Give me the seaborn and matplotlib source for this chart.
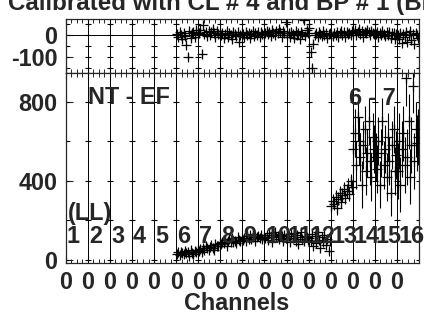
import numpy as np
import pandas as pd
import seaborn as sns
import matplotlib.pyplot as plt

# channels that carry data (1..16 drawn, data only from 6 on)
channels = list(range(6, 17))

# amplitude per point, one list per channel
amp = {
    6: [30, 38, 25, 42, 35, 28, 45, 33, 40, 22, 48, 36, 30, 44, 38, 50],
    7: [45, 55, 40, 62, 50, 70, 58, 48, 66, 75, 60, 52, 80, 68, 72, 85],
    8: [78, 90, 85, 100, 72, 95, 105, 88, 110, 92, 98, 84, 115, 100, 95, 108],
    9: [100, 112, 95, 120, 108, 125, 104, 118, 130, 98, 115, 122, 110, 128, 105, 118],
    10: [110, 125, 100, 135, 118, 92, 128, 140, 115, 122, 105, 132, 120, 98, 126, 112],
    11: [105, 120, 90, 130, 112, 135, 98, 125, 80, 118, 140, 108, 95, 122, 115, 100],
    12: [110, 95, 130, 70, 120, 85, 140, 100, 60, 115, 90, 125, 75, 105, 45, 95],
    13: [270, 300, 285, 320, 260, 310, 340, 295, 330, 360, 315, 350, 380, 335, 400, 370],
    14: [560, 640, 480, 720, 600, 520, 380, 580, 660, 450, 540, 700, 500, 420, 620, 560],
    15: [520, 460, 600, 380, 540, 700, 480, 560, 420, 620, 500, 340, 580, 660, 450, 530],
    16: [450, 600, 380, 560, 640, 480, 920, 520, 700, 420, 580, 880, 500, 660, 590, 620],
}
amp_err = {6: 12, 7: 12, 8: 12, 9: 12, 10: 14, 11: 14, 12: 16,
           13: 35, 14: 120, 15: 120, 16: 140}

# residuals (top pad)
resid = {
    6: [5, -10, 15, 0, -20, 10, -5, -45, -100, 20, -15, 8, 12, -8, 25, 3],
    7: [10, 25, -88, 45, 5, 15, -5, 20, 0, 12, 30, 8, -10, 18, 5, 10],
    8: [0, 10, -15, 5, 20, -10, 8, 0, -20, 15, 5, -5, 12, -30, 0, 8],
    9: [5, -8, 15, 0, 10, -15, 5, 20, -5, 8, 0, 12, -10, 15, 5, 2],
    10: [10, 20, 5, 15, -5, 25, 10, 0, 18, 8, 30, 12, -8, 20, 8, 60],
    11: [0, 10, -10, 15, 5, -15, 20, 0, 8, -20, 12, 5, 68, -5, 25, 10],
    12: [32, -77, -150, -40, 0, 10, -10, 15, 5, -5, 20, 0, 10, -15, 5, 8],
    13: [5, -5, 10, 0, 15, -10, 8, 20, 0, 12, -8, 15, 5, 10, 0, 18],
    14: [10, 25, 0, 15, 30, 5, 20, -10, 15, 8, 25, 12, 0, 18, 10, 5],
    15: [5, 15, -10, 10, 0, 20, 5, -5, 12, 0, 15, -15, 8, 10, -20, 5],
    16: [0, -20, 10, -35, 5, -10, 15, -30, 0, 20, -25, 5, -40, 10, 0, -15],
}
resid_err = 12

rows = []
for c in channels:
    n = len(amp[c])
    for j in range(n):
        rows.append({"ch": c, "x": c - 1 + (j + 0.5) / n, "amp": amp[c][j],
                     "err": amp_err[c], "res": resid[c][j]})
df = pd.DataFrame(rows)

sns.set_style("ticks")
plt.rcParams["font.family"] = ["Liberation Sans", "DejaVu Sans"]
plt.rcParams["font.weight"] = "bold"
plt.rcParams["axes.unicode_minus"] = False
fs = 16.8

fig = plt.figure(figsize=(4.24, 3.2), dpi=100)
ax1 = fig.add_axes([0.155, 0.7728, 0.8333, 0.1678])
ax2 = fig.add_axes([0.155, 0.1791, 0.8333, 0.5938])

bounds = np.arange(0, 17)

for ax, ylim, yt, ymin in [(ax1, (-174, 74), [0, -100], [50, -50, -150]),
                           (ax2, (-14, 946), [0, 400, 800], [200, 600])]:
    ax.set_xlim(0, 16)
    ax.set_ylim(*ylim)
    for b in bounds:
        ax.axvline(b, color="black", lw=0.7, zorder=1)
    gx, gy = np.meshgrid(bounds, yt + ymin)
    ax.plot(gx.ravel(), gy.ravel(), ls="none", marker="_", ms=5, mew=0.8,
            color="black", zorder=1)
    ax.set_yticks(yt)
    ax.set_yticks(ymin, minor=True)
    ax.set_xticks(bounds[:-1])
    ax.set_xticks(np.arange(0, 16, 0.25), minor=True)
    ax.tick_params(which="both", direction="in", top=True, right=False,
                   labelsize=fs, pad=6)
    ax.tick_params(which="major", length=5, width=0.8)
    ax.tick_params(which="minor", length=3, width=0.7)
    for s in ax.spines.values():
        s.set_linewidth(0.9)

# top pad: residuals
ax1.axhline(0, color="black", lw=0.7, zorder=1)
ax1.errorbar(df["x"], df["res"], yerr=resid_err, fmt="none", ecolor="black",
             elinewidth=0.8, zorder=2)
sns.scatterplot(data=df, x="x", y="res", marker="+", s=49, color="black",
                linewidth=0.9, ax=ax1, zorder=3, legend=False)
ax1.set_xticklabels([])
ax1.set_xlabel("")
ax1.set_ylabel("")

# bottom pad: amplitude
ax2.errorbar(df["x"], df["amp"], yerr=df["err"], fmt="none", ecolor="black",
             elinewidth=0.8, zorder=2)
sns.scatterplot(data=df, x="x", y="amp", marker="+", s=49, color="black",
                linewidth=0.9, ax=ax2, zorder=3, legend=False)
ax2.set_xticklabels(["0"] * 16)
ax2.set_xlabel("")
ax2.set_ylabel("")

for c in range(1, 17):
    ax2.text(c - 1 + 0.05, 120, str(c), fontsize=fs, fontweight="bold",
             va="center", ha="left", zorder=4)
ax2.text(0.1, 235, "(LL)", fontsize=fs, fontweight="bold", va="center", zorder=4)
ax2.text(1.0, 823, "NT - EF", fontsize=fs, fontweight="bold", va="center", zorder=4)
ax2.text(12.83, 818, "6 - 7", fontsize=fs, fontweight="bold", va="center", zorder=4)

fig.text(8 / 424, 1 - 10 / 320, "Calibrated with CL # 4 and BP # 1 (BF)",
         fontsize=17.4, fontweight="bold", va="baseline", ha="left")
fig.text(237 / 424, 1 - 304 / 320, "Channels", fontsize=fs,
         fontweight="bold", va="center", ha="center")

fig.savefig("out.png", dpi=100)
